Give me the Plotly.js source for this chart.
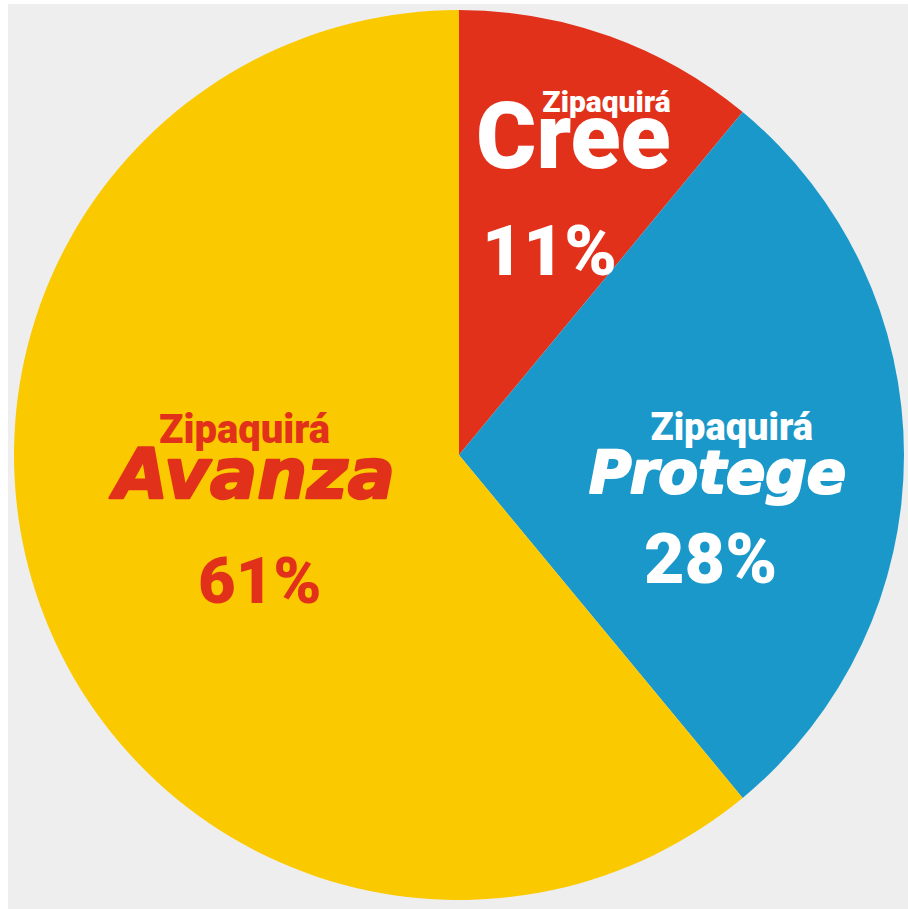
<!DOCTYPE html>
<html>
<head>
<meta charset="utf-8">
<script src="https://cdn.plot.ly/plotly-3.0.1.min.js"></script>
<style>
html,body{margin:0;padding:0;background:#ffffff;}
#chart{width:908px;height:909px;}
</style>
</head>
<body>
<div id="chart"></div>
<script>
// Data
var prefix = "Zipaquirá";
var names = ["Cree", "Protege", "Avanza"];
var values = [11, 28, 61];
var colors = ["#E2311B", "#1A98C9", "#FBC900"];
var textColors = ["#FFFFFF", "#FFFFFF", "#E2311B"];

var W = 908, H = 909;
function px(x){ return x / W; }
function py(y){ return 1 - y / H; }

var roboto = "Roboto, 'Noto Sans', sans-serif";
var dejavu = "'DejaVu Sans', sans-serif";

// label placement
var place = [
  {x:673, y:136, anchor:"right",  base:43, pre:30, nm:92, fam:roboto, it:false, padL:0, padR:0, stroke:0,   pct:[549,250,71]},
  {x:717, y:456, anchor:"center", base:41, pre:38, nm:58, fam:dejavu, it:true,  padL:3, padR:0, stroke:2.2, pct:[710,559,70]},
  {x:252, y:460, anchor:"center", base:42, pre:40, nm:70, fam:dejavu, it:true,  padL:0, padR:2, stroke:2.4, pct:[260,581,65]}
];

function nbsp(k){ return new Array(k + 1).join("\u00a0"); }

var annotations = [];
names.forEach(function(n, i){
  var p = place[i];
  var strokeCss = p.stroke ? ";stroke:" + textColors[i] + ";stroke-width:" + p.stroke + "px;stroke-linejoin:round" : "";
  var txt = "<span style='font-size:" + p.pre + "px;font-family:Roboto;font-weight:900'>" + nbsp(p.padL) + prefix + nbsp(p.padR) + "</span><br>" +
            "<span style='font-size:" + p.nm + "px;font-weight:900;font-style:" + (p.it ? "italic" : "normal") +
            ";font-family:" + p.fam.replace(/'/g, "") + strokeCss + "'>" + n + "</span>";
  annotations.push({xref:"paper", yref:"paper", x:px(p.x), y:py(p.y), xanchor:p.anchor, yanchor:"middle", align:p.anchor,
    text:txt, showarrow:false, font:{family:roboto, size:p.base, color:textColors[i]}});
  annotations.push({xref:"paper", yref:"paper", x:px(p.pct[0]), y:py(p.pct[1]), xanchor:"center", yanchor:"middle",
    text:values[i] + "%", showarrow:false, font:{family:roboto, size:p.pct[2], color:textColors[i], weight:900}});
});

var trace = {
  type: "pie",
  labels: names.map(function(n){ return prefix + " " + n; }),
  values: values,
  sort: false,
  direction: "clockwise",
  rotation: 0,
  textinfo: "none",
  hoverinfo: "label+percent",
  marker: {colors: colors, line: {width: 0}},
  domain: {x: [px(14), px(904)], y: [py(900), py(10)]},
  showlegend: false
};

var layout = {
  width: W, height: H,
  margin: {l:0, r:0, t:0, b:0},
  paper_bgcolor: "#EEEEEE",
  showlegend: false,
  annotations: annotations,
  shapes: [
    {type:"rect", xref:"paper", yref:"paper", x0:0, x1:px(8), y0:0, y1:1, fillcolor:"#FFFFFF", line:{width:0}, layer:"below"},
    {type:"rect", xref:"paper", yref:"paper", x0:0, x1:1, y0:py(4), y1:1, fillcolor:"#FFFFFF", line:{width:0}, layer:"below"}
  ]
};

Plotly.newPlot("chart", [trace], layout, {displayModeBar:false, staticPlot:true});
</script>
</body>
</html>
